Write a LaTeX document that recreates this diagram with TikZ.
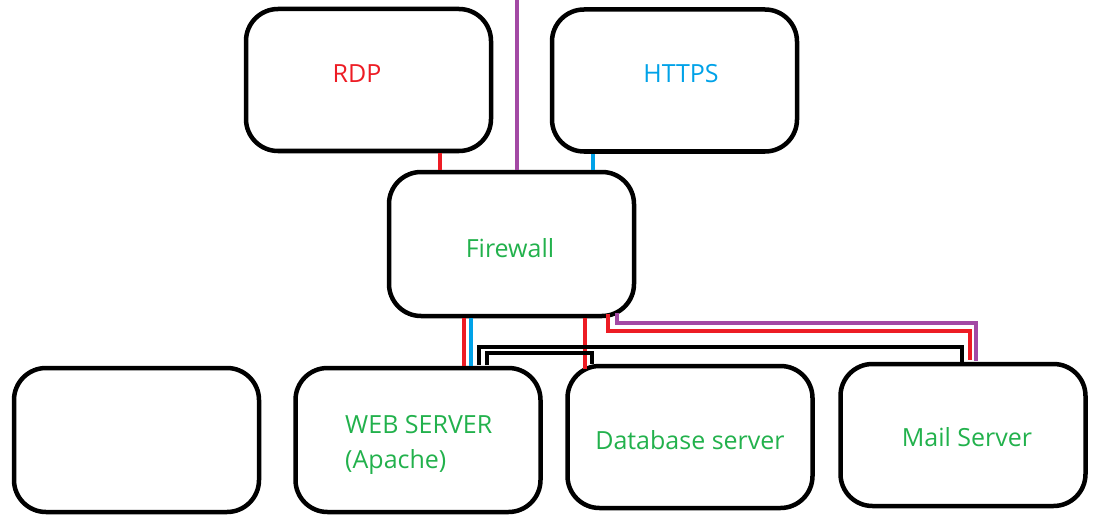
\documentclass[tikz,border=0pt]{standalone}
\usepackage{fontspec}
\setmainfont{Open Sans}
\definecolor{pred}{HTML}{ED1C24}
\definecolor{pblue}{HTML}{00A2E8}
\definecolor{pgreen}{HTML}{22B14C}
\definecolor{ppurple}{HTML}{A349A4}
\begin{document}
\begin{tikzpicture}[x=1pt,y=-1pt,
  box/.style={draw=black,line width=4.5pt,rounded corners=32pt,minimum width=245pt,minimum height=142pt,inner sep=0pt},
  lbl/.style={font=\fontsize{25}{35}\selectfont,inner sep=0pt},
  wire/.style={line width=4pt}]
\useasboundingbox (0,0) rectangle (1108,532);
\node[box] (rdp) at (368.5,80) {};
\node[lbl,text=pred] (rdpt) at (357,74) {RDP};
\node[box] (https) at (674.5,80.5) {};
\node[lbl,text=pblue] (httpst) at (681,74) {HTTPS};
\node[box,minimum height=144pt] (fw) at (511.5,244) {};
\node[lbl,text=pgreen] (fwt) at (510,248) {Firewall};
\node[box,minimum height=144pt] (b1) at (136.5,440) {};
\node[box,minimum height=144pt] (web) at (418,440) {};
\node[lbl,text=pgreen,align=left,anchor=west] (webt) at (345,445) {WEB SERVER\\(Apache)};
\node[box,minimum height=142pt] (db) at (690,437) {};
\node[lbl,text=pgreen] (dbt) at (690,440) {Database server};
\node[box,minimum height=142pt] (mail) at (963,435) {};
\node[lbl,text=pgreen] (mailt) at (967,437) {Mail Server};
\coordinate (top) at (517,0);
% top connectors
\draw[wire,pred] (rdp.south -| 440,0) -- (fw.north -| 440,0);
\draw[wire,ppurple] (top) -- (fw.north -| top);
\draw[wire,pblue] (https.south -| 593,0) -- (fw.north -| 593,0);
% bottom connectors
\draw[wire,pred] (fw.south -| 464,0) -- (web.north -| 464,0);
\draw[wire,pblue] (fw.south -| 471,0) -- (web.north -| 471,0);
\draw[wire,pred] (fw.south -| 585,0) -- (585,369);
\draw[wire,pred] (608,314) -- (608,331) -- (970,331) -- (970,360);
\draw[wire,ppurple] (617,313) -- (617,323) -- (976,323) -- (976,361);
\draw[wire,black] (479,365) -- (479,347) -- (962,347) -- (962,363);
\draw[wire,black] (487,365) -- (487,353) -- (592,353) -- (592,364);
\end{tikzpicture}
\end{document}
